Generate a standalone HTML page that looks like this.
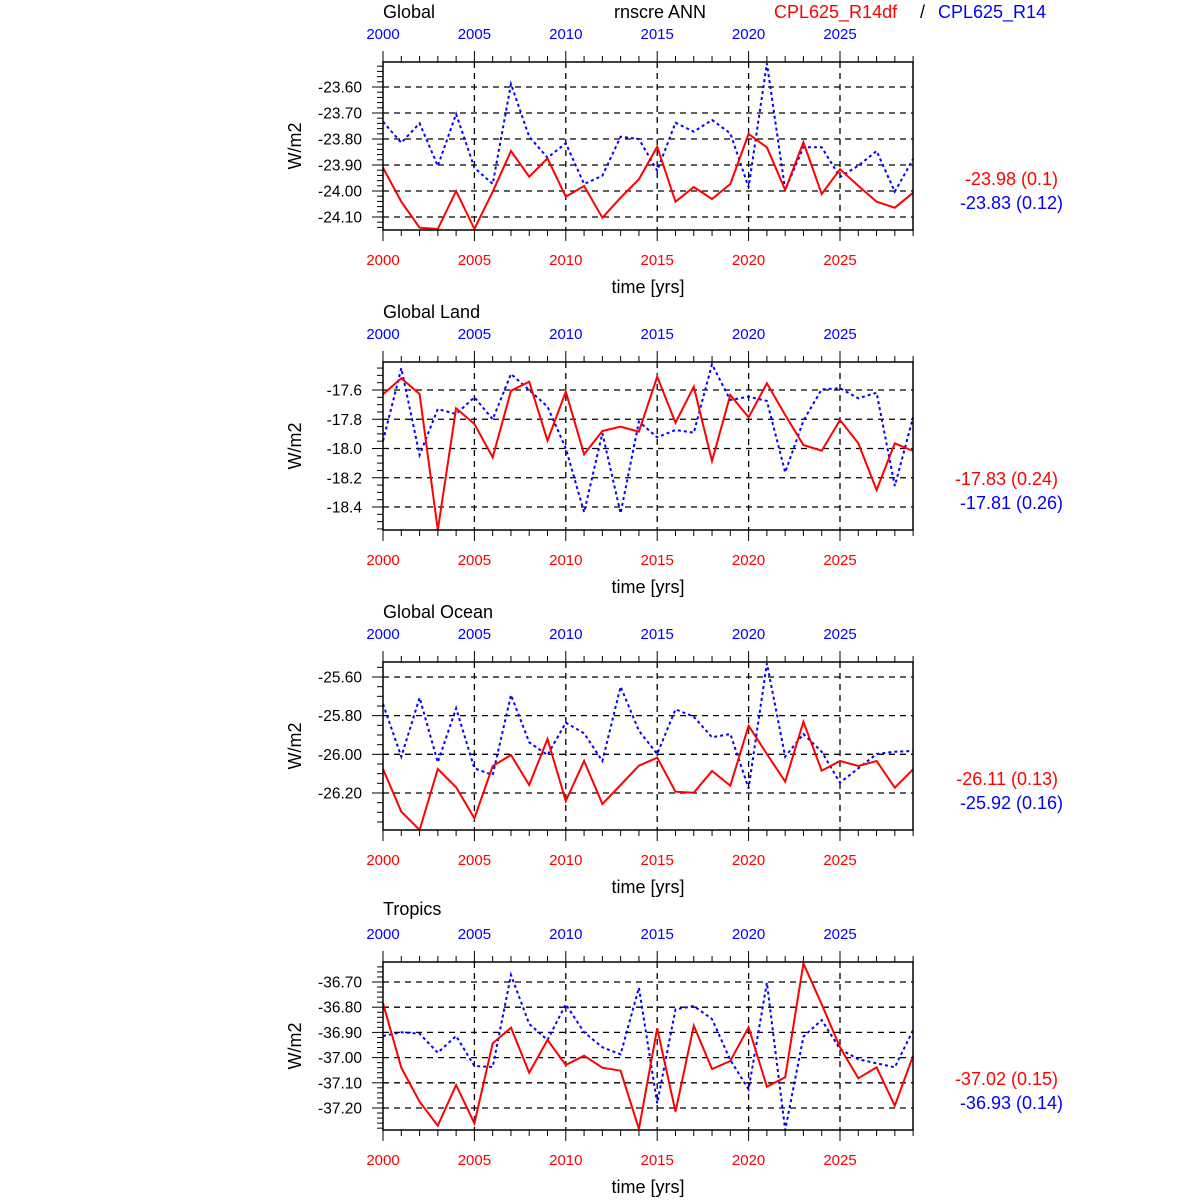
<!DOCTYPE html>
<html><head><meta charset="utf-8"><style>
html,body{margin:0;padding:0;background:#fff;}
svg{display:block;font-family:"Liberation Sans",sans-serif;}
</style></head><body>
<svg id="s" width="1200" height="1200" xmlns="http://www.w3.org/2000/svg">
<text x="383" y="18" font-size="18">Global</text>
<text x="660" y="18" font-size="18" text-anchor="middle">rnscre ANN</text>
<text x="774" y="18" font-size="18" fill="#f00">CPL625_R14df</text>
<text x="920" y="18" font-size="18">/</text>
<text x="938" y="18" font-size="18" fill="#00f">CPL625_R14</text>
</svg>
<script>
var s=document.getElementById('s');var h='';
var X0=383,DX=18.28,X1=913;
var P=[
{off:0,zo:55,title:"Global",v0:-23.6,y0:87,k:260,maj:0.1,min:0.02,fmt:2,ticks:[-23.6,-23.7,-23.8,-23.9,-24.0,-24.1],
 r:[338,440,518,522,408,522,410,288,365,310,425,393,488,428,373,275,440,396,432,387,237,277,405,262,417,343,392,440,458,413],
 b:[200,263,205,333,177,338,387,87,245,308,265,387,362,245,252,347,203,230,195,235,397,25,405,277,277,366,332,288,410,312],
 rv:"-23.98 (0.1)",bv:"-23.83 (0.12)"},
{off:300,zo:355,title:"Global Land",v0:-17.6,y0:390,k:146.25,maj:0.2,min:0.05,fmt:1,ticks:[-17.6,-17.8,-18.0,-18.2,-18.4],
 r:[118,70,117,525,160,207,307,107,80,257,110,298,228,215,230,65,203,95,318,120,187,85,180,270,287,195,265,405,265,288],
 b:[258,40,300,162,177,127,193,57,105,155,280,472,235,475,200,247,225,233,28,135,125,138,352,197,103,100,130,113,393,187],
 rv:"-17.83 (0.24)",bv:"-17.81 (0.26)"},
{off:600,zo:655,title:"Global Ocean",v0:-25.6,y0:677,k:193.3,maj:0.2,min:0.05,fmt:2,ticks:[-25.6,-25.8,-26.0,-26.2],
 r:[342,470,525,342,397,490,333,300,390,252,438,318,447,390,332,308,410,413,348,392,212,297,380,200,347,318,333,318,398,343],
 b:[147,305,128,322,160,340,360,120,262,300,203,235,318,95,227,297,163,185,247,237,400,25,305,237,290,383,340,297,290,288],
 rv:"-26.11 (0.13)",bv:"-25.92 (0.16)"},
{off:900,zo:955,title:"Tropics",v0:-36.7,y0:982,k:252,maj:0.1,min:0.02,fmt:2,ticks:[-36.7,-36.8,-36.9,-37.0,-37.1,-37.2],
 r:[145,338,440,512,390,505,265,218,353,255,330,302,338,347,522,220,470,212,342,318,217,395,367,25,148,277,370,337,452,302],
 b:[243,232,236,293,243,333,336,60,207,255,148,232,277,298,98,445,163,153,192,315,403,83,525,245,195,282,313,325,337,225],
 rv:"-37.02 (0.15)",bv:"-36.93 (0.14)"}
];
P.forEach(function(p,pi){
 var o=p.off,T=62+o,B=230+o;
 if(pi>0) h+='<text x="383" y="'+(18+o-(pi==3?3:0))+'" font-size="18">'+p.title+'</text>';
 for(var yr=2005;yr<=2025;yr+=5){var x=X0+(yr-2000)*DX;h+='<line x1="'+x+'" y1="'+T+'" x2="'+x+'" y2="'+B+'" stroke="#000" stroke-width="1.3" stroke-dasharray="6,5"/>';}
 p.ticks.forEach(function(v){var y=p.y0+(p.v0-v)*p.k;h+='<line x1="'+X0+'" y1="'+y+'" x2="'+X1+'" y2="'+y+'" stroke="#000" stroke-width="1.3" stroke-dasharray="6,5"/>';
  h+='<text x="362" y="'+(y+5.5)+'" font-size="15.5" text-anchor="end">'+v.toFixed(p.fmt)+'</text>';});
 var vTop=p.v0+(p.y0-T)/p.k, vBot=p.v0-(B-p.y0)/p.k;
 var n0=Math.ceil(vBot/p.min-1e-6),n1=Math.floor(vTop/p.min+1e-6);
 for(var n=n0;n<=n1;n++){var v=n*p.min;var y=p.y0+(p.v0-v)*p.k;var isM=Math.abs(v/p.maj-Math.round(v/p.maj))<1e-6;
  h+='<line x1="'+(X0-(isM?11:6))+'" y1="'+y+'" x2="'+X0+'" y2="'+y+'" stroke="#000" stroke-width="1"/>';}
 for(var i=0;i<=29;i++){var x=X0+i*DX,L=(i%5==0)?11:6;
  h+='<line x1="'+x+'" y1="'+T+'" x2="'+x+'" y2="'+(T-L)+'" stroke="#000" stroke-width="1"/>';
  h+='<line x1="'+x+'" y1="'+B+'" x2="'+x+'" y2="'+(B+L)+'" stroke="#000" stroke-width="1"/>';}
 for(var yr=2000;yr<=2025;yr+=5){var x=X0+(yr-2000)*DX;
  h+='<text x="'+x+'" y="'+(39+o)+'" font-size="15" fill="#00f" text-anchor="middle">'+yr+'</text>';
  h+='<text x="'+x+'" y="'+(265+o)+'" font-size="15" fill="#f00" text-anchor="middle">'+yr+'</text>';}
 h+='<text x="648" y="'+(293+o)+'" font-size="18" text-anchor="middle">time [yrs]</text>';
 h+='<text transform="translate(301,'+(146+o)+') rotate(-90)" font-size="18" text-anchor="middle">W/m2</text>';
 h+='<text x="1058" y="'+(185+o)+'" font-size="18" fill="#f00" text-anchor="end">'+p.rv+'</text>';
 h+='<text x="1063" y="'+(209+o)+'" font-size="18" fill="#00f" text-anchor="end">'+p.bv+'</text>';
 function pts(a){return a.map(function(zy,i){return (X0+i*DX).toFixed(1)+','+(p.zo+zy/3).toFixed(1);}).join(' ');}
 h+='<polyline points="'+pts(p.b)+'" fill="none" stroke="#00f" stroke-width="2" stroke-dasharray="3,3"/>';
 h+='<polyline points="'+pts(p.r)+'" fill="none" stroke="#f00" stroke-width="2"/>';
 h+='<rect x="'+X0+'" y="'+T+'" width="'+(X1-X0)+'" height="'+(B-T)+'" fill="none" stroke="#000" stroke-width="1.5"/>';
});
s.insertAdjacentHTML('beforeend',h);
</script>
</body></html>
